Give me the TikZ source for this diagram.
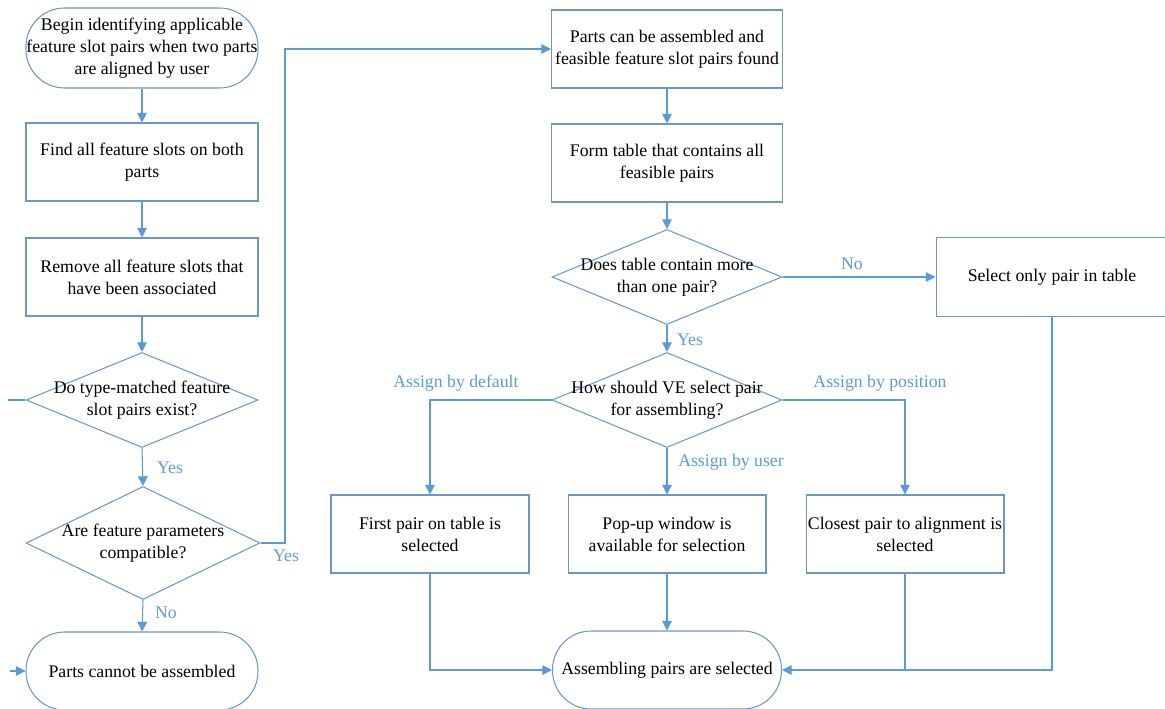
\documentclass[tikz,border=0pt]{standalone}
\usepackage{fontspec}
\setmainfont{Liberation Serif}
\usetikzlibrary{shapes.geometric,arrows.meta}
\definecolor{edgec}{RGB}{91,155,213}
\definecolor{shapec}{RGB}{110,150,196}
\definecolor{lblc}{RGB}{91,155,213}
\begin{document}
\begin{tikzpicture}[x=0.02cm,y=-0.02cm,
  font=\fontsize{10.1}{12.5}\selectfont,
  box/.style={draw=shapec, line width=0.6pt, rectangle, align=center, inner sep=0pt},
  term/.style={draw=shapec, line width=0.6pt, rectangle, rounded corners=0.77cm, align=center, inner sep=0pt},
  dia/.style={draw=shapec, line width=0.6pt, diamond, inner sep=0pt},
  txt/.style={align=center, inner sep=0pt},
  conn/.style={draw=edgec, line width=0.6pt},
  arr/.style={conn, -{Triangle[length=5.5pt,width=5.5pt]}},
  lab/.style={text=lblc, inner sep=0pt}
]
\useasboundingbox (0,0) rectangle (1165,709);

% left column
\node[term, minimum width=4.64cm, minimum height=1.6cm] (start) at (142,48)
  {Begin identifying applicable\\feature slot pairs when two parts\\are aligned by user};
\node[box, minimum width=4.64cm, minimum height=1.56cm] (find) at (142,162)
  {Find all feature slots on both\\parts};
\node[box, minimum width=4.64cm, minimum height=1.56cm] (remove) at (142,277)
  {Remove all feature slots that\\have been associated};
\node[dia, minimum width=4.64cm, minimum height=1.9cm] (d1) at (142,400) {};
\node[txt] (d1t) at (d1.center) {Do type-matched feature\\slot pairs exist?};
\node[dia, minimum width=4.68cm, minimum height=2.26cm] (d2) at (143,543) {};
\node[txt] (d2t) at (d2.center) {Are feature parameters\\compatible?};
\node[term, minimum width=4.64cm, minimum height=1.56cm] (cannot) at (142,671)
  {Parts cannot be assembled};

% right part
\node[box, minimum width=4.62cm, minimum height=1.56cm] (canasm) at (667,49)
  {Parts can be assembled and\\feasible feature slot pairs found};
\node[box, minimum width=4.62cm, minimum height=1.56cm] (form) at (667,163)
  {Form table that contains all\\feasible pairs};
\node[dia, minimum width=4.6cm, minimum height=1.9cm] (d3) at (667,277) {};
\node[txt] (d3t) at (d3.center) {Does table contain more\\than one pair?};
\node[box, minimum width=4.64cm, minimum height=1.58cm] (select) at (1052,277)
  {Select only pair in table};
\node[dia, minimum width=4.6cm, minimum height=1.9cm] (d4) at (667,400) {};
\node[txt] (d4t) at (d4.center) {How should VE select pair\\for assembling?};
\node[box, minimum width=3.96cm, minimum height=1.56cm] (first) at (430,534)
  {First pair on table is\\selected};
\node[box, minimum width=3.96cm, minimum height=1.56cm] (popup) at (667,534)
  {Pop-up window is\\available for selection};
\node[box, minimum width=3.96cm, minimum height=1.56cm] (closest) at (905,534)
  {Closest pair to alignment is\\selected};
\node[term, minimum width=4.58cm, minimum height=1.56cm] (asm) at (667,670)
  {Assembling pairs are selected};

% free ends
\coordinate (lstub) at (8,400);
\coordinate (lin) at (10,671);
\coordinate (bend) at (285,49);

% connectors
\draw[arr] (start) -- (find);
\draw[arr] (find) -- (remove);
\draw[arr] (remove) -- (d1.north);
\draw[arr] (d1.south) -- (d2.north);
\draw[arr] (d2.south) -- (cannot.north);
\draw[conn] (d1.west) -- (lstub);
\draw[arr] (lin) -- (cannot.west);
\draw[arr] (d2.east) -| (bend) -- (canasm.west);
\draw[arr] (canasm) -- (form);
\draw[arr] (form) -- (d3.north);
\draw[arr] (d3.east) -- (select.west);
\draw[arr] (d3.south) -- (d4.north);
\draw[arr] (d4.west) -| (first.north);
\draw[arr] (d4.east) -| (closest.north);
\draw[arr] (d4.south) -- (popup.north);
\draw[arr] (first.south) |- (asm.west);
\draw[arr] (popup.south) -- (asm.north);
\draw[arr] (select.south) |- (asm.east);
\draw[conn] (closest.south) -- (closest.south |- asm.east);

% labels
\node[lab] (lyes1) at (170,468) {Yes};
\node[lab] (lno1) at (166,613) {No};
\node[lab] (lyes2) at (286,556) {Yes};
\node[lab] (lno2) at (852,264) {No};
\node[lab] (lyes3) at (690,340) {Yes};
\node[lab] (ldef) at (456,383) {Assign by default};
\node[lab] (lpos) at (880,383) {Assign by position};
\node[lab] (luser) at (731,462) {Assign by user};
\end{tikzpicture}
\end{document}
